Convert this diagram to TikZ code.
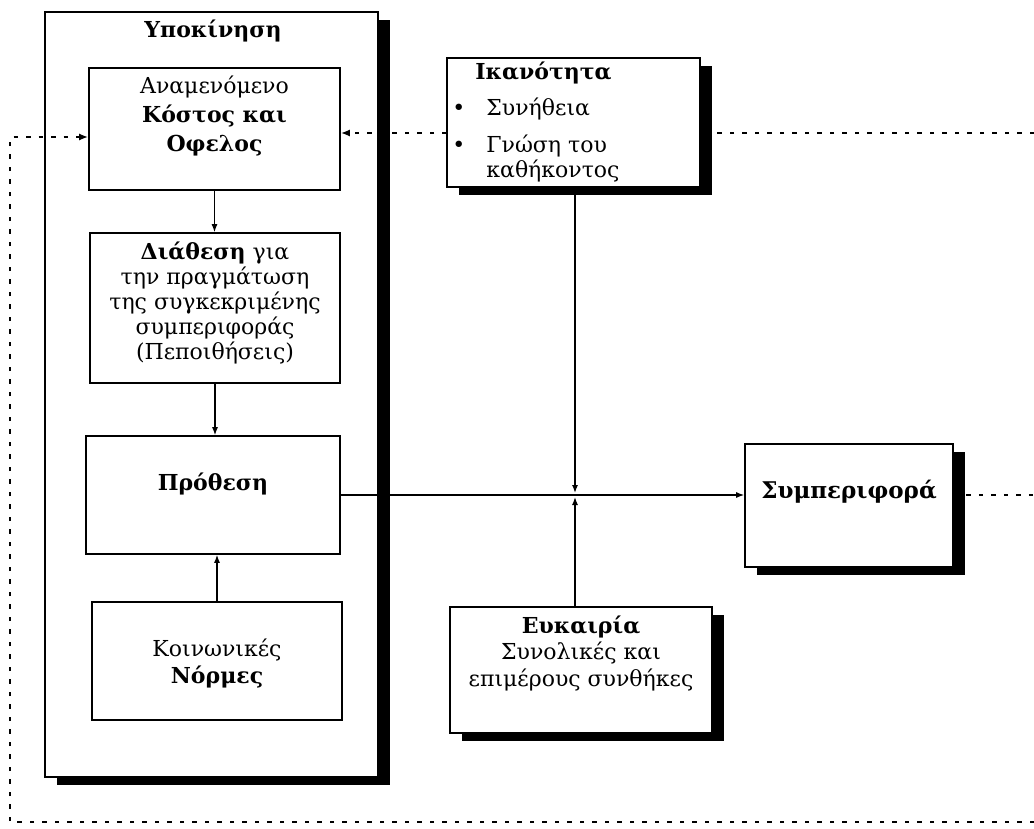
\documentclass[tikz,border=0pt]{standalone}
\usepackage{fontspec}
\setmainfont{DejaVu Serif}
\usetikzlibrary{positioning,shadows,arrows.meta}

\tikzset{
	boite/.style={draw,fill=white,line width=1.6pt,inner sep=0pt},
	ombre/.style={drop shadow={shadow xshift=11.5pt,shadow yshift=-8pt,fill=black,opacity=1}},
	texte/.style={align=center,inner sep=0pt,font=\fontsize{22}{25}\selectfont},
	fleche/.style={line width=1.3pt,-{Latex[length=8pt,width=6pt]}},
	retour/.style={line width=2pt,dash pattern=on 4.5pt off 8pt},
}

\begin{document}
\begin{tikzpicture}[x=1pt,y=-1pt]
	\useasboundingbox (0,0) rectangle (1034,828);
	% cadre Υποκίνηση
	\node[boite,ombre,minimum width=333pt,minimum height=765pt] (motiv) at (211.5,394.5) {};
	\node[texte] (motivT) at (213,31) {\textbf{Υποκίνηση}};
	% les quatre boîtes de gauche
	\node[boite,minimum width=251pt,minimum height=122pt] (cout) at (214.5,129) {};
	\node[texte,font=\fontsize{22}{29}\selectfont,below=8pt of cout.north] (coutT) {Αναμενόμενο\\\textbf{Κόστος και}\\\textbf{Οφελος}};
	\node[boite,minimum width=250pt,minimum height=150pt] (dispo) at (215,308) {};
	\node[texte,below=9pt of dispo.north] (dispoT) {\textbf{Διάθεση} για\\την πραγμάτωση\\της συγκεκριμένης\\συμπεριφοράς\\(Πεποιθήσεις)};
	\node[boite,minimum width=254pt,minimum height=118pt] (inten) at (213,495) {};
	\node[texte] (intenT) at ([yshift=11pt]inten.center) {\textbf{Πρόθεση}};
	\node[boite,minimum width=250pt,minimum height=118pt] (normes) at (217,661) {};
	\node[texte,font=\fontsize{22}{27}\selectfont] (normesT) at ([yshift=-2pt]normes.center) {Κοινωνικές\\\textbf{Νόρμες}};
	% flèches internes
	\draw[fleche] (cout.south) -- (cout.south |- dispo.north);
	\draw[fleche] (dispo.south) -- (dispo.south |- inten.north);
	\draw[fleche] (normes.north) -- (normes.north |- inten.south);
	% boucle de retour en pointillés
	\coordinate (retH) at (1034,133);
	\coordinate (retE) at (1034,495);
	\coordinate (retB) at (1034,822);
	\coordinate (retG) at (10,822);
	\coordinate (retGH) at (10,137);
	\draw[retour,-{Latex[length=9pt,width=7pt]}] (retH) -- (retH -| cout.east);
	\draw[retour,-{Latex[length=9pt,width=7pt]}] (retB) -- (retG) -- (retGH) -- (retGH -| cout.west);
	% boîtes de droite
	\node[boite,ombre,minimum width=253pt,minimum height=129pt] (capa) at (573.5,122.5) {};
	\node[texte,below=5pt of capa.north,xshift=-30pt] (capaT) {\textbf{Ικανότητα}};
	\node[texte,align=left,anchor=north west] (capaL) at ([xshift=6pt,yshift=-40pt]capa.north west)
		{\makebox[34pt][l]{•}Συνήθεια\\[12pt]\makebox[34pt][l]{•}Γνώση του\\\hspace*{34pt}καθήκοντος};
	\node[boite,ombre,minimum width=208pt,minimum height=123pt] (compo) at (849,505.5) {};
	\node[texte,font=\fontsize{23}{25}\selectfont] (compoT) at ([yshift=14pt]compo.center) {\textbf{Συμπεριφορά}};
	\node[boite,ombre,minimum width=262pt,minimum height=126pt] (occas) at (581,670) {};
	\node[texte,font=\fontsize{22}{26.5}\selectfont,below=9pt of occas.north] (occasT) {\textbf{Ευκαιρία}\\Συνολικές και\\επιμέρους συνθήκες};
	% flèche principale et jonction
	\coordinate (jonc) at (575,495);
	\draw[fleche] (inten.east) -- (inten.east -| compo.west);
	\draw[fleche,shorten >=2pt] (jonc |- capa.south) -- (jonc);
	\draw[fleche,shorten >=2pt] (jonc |- occas.north) -- (jonc);
	\draw[retour] (compo.east |- retE) -- (retE);
\end{tikzpicture}
\end{document}
